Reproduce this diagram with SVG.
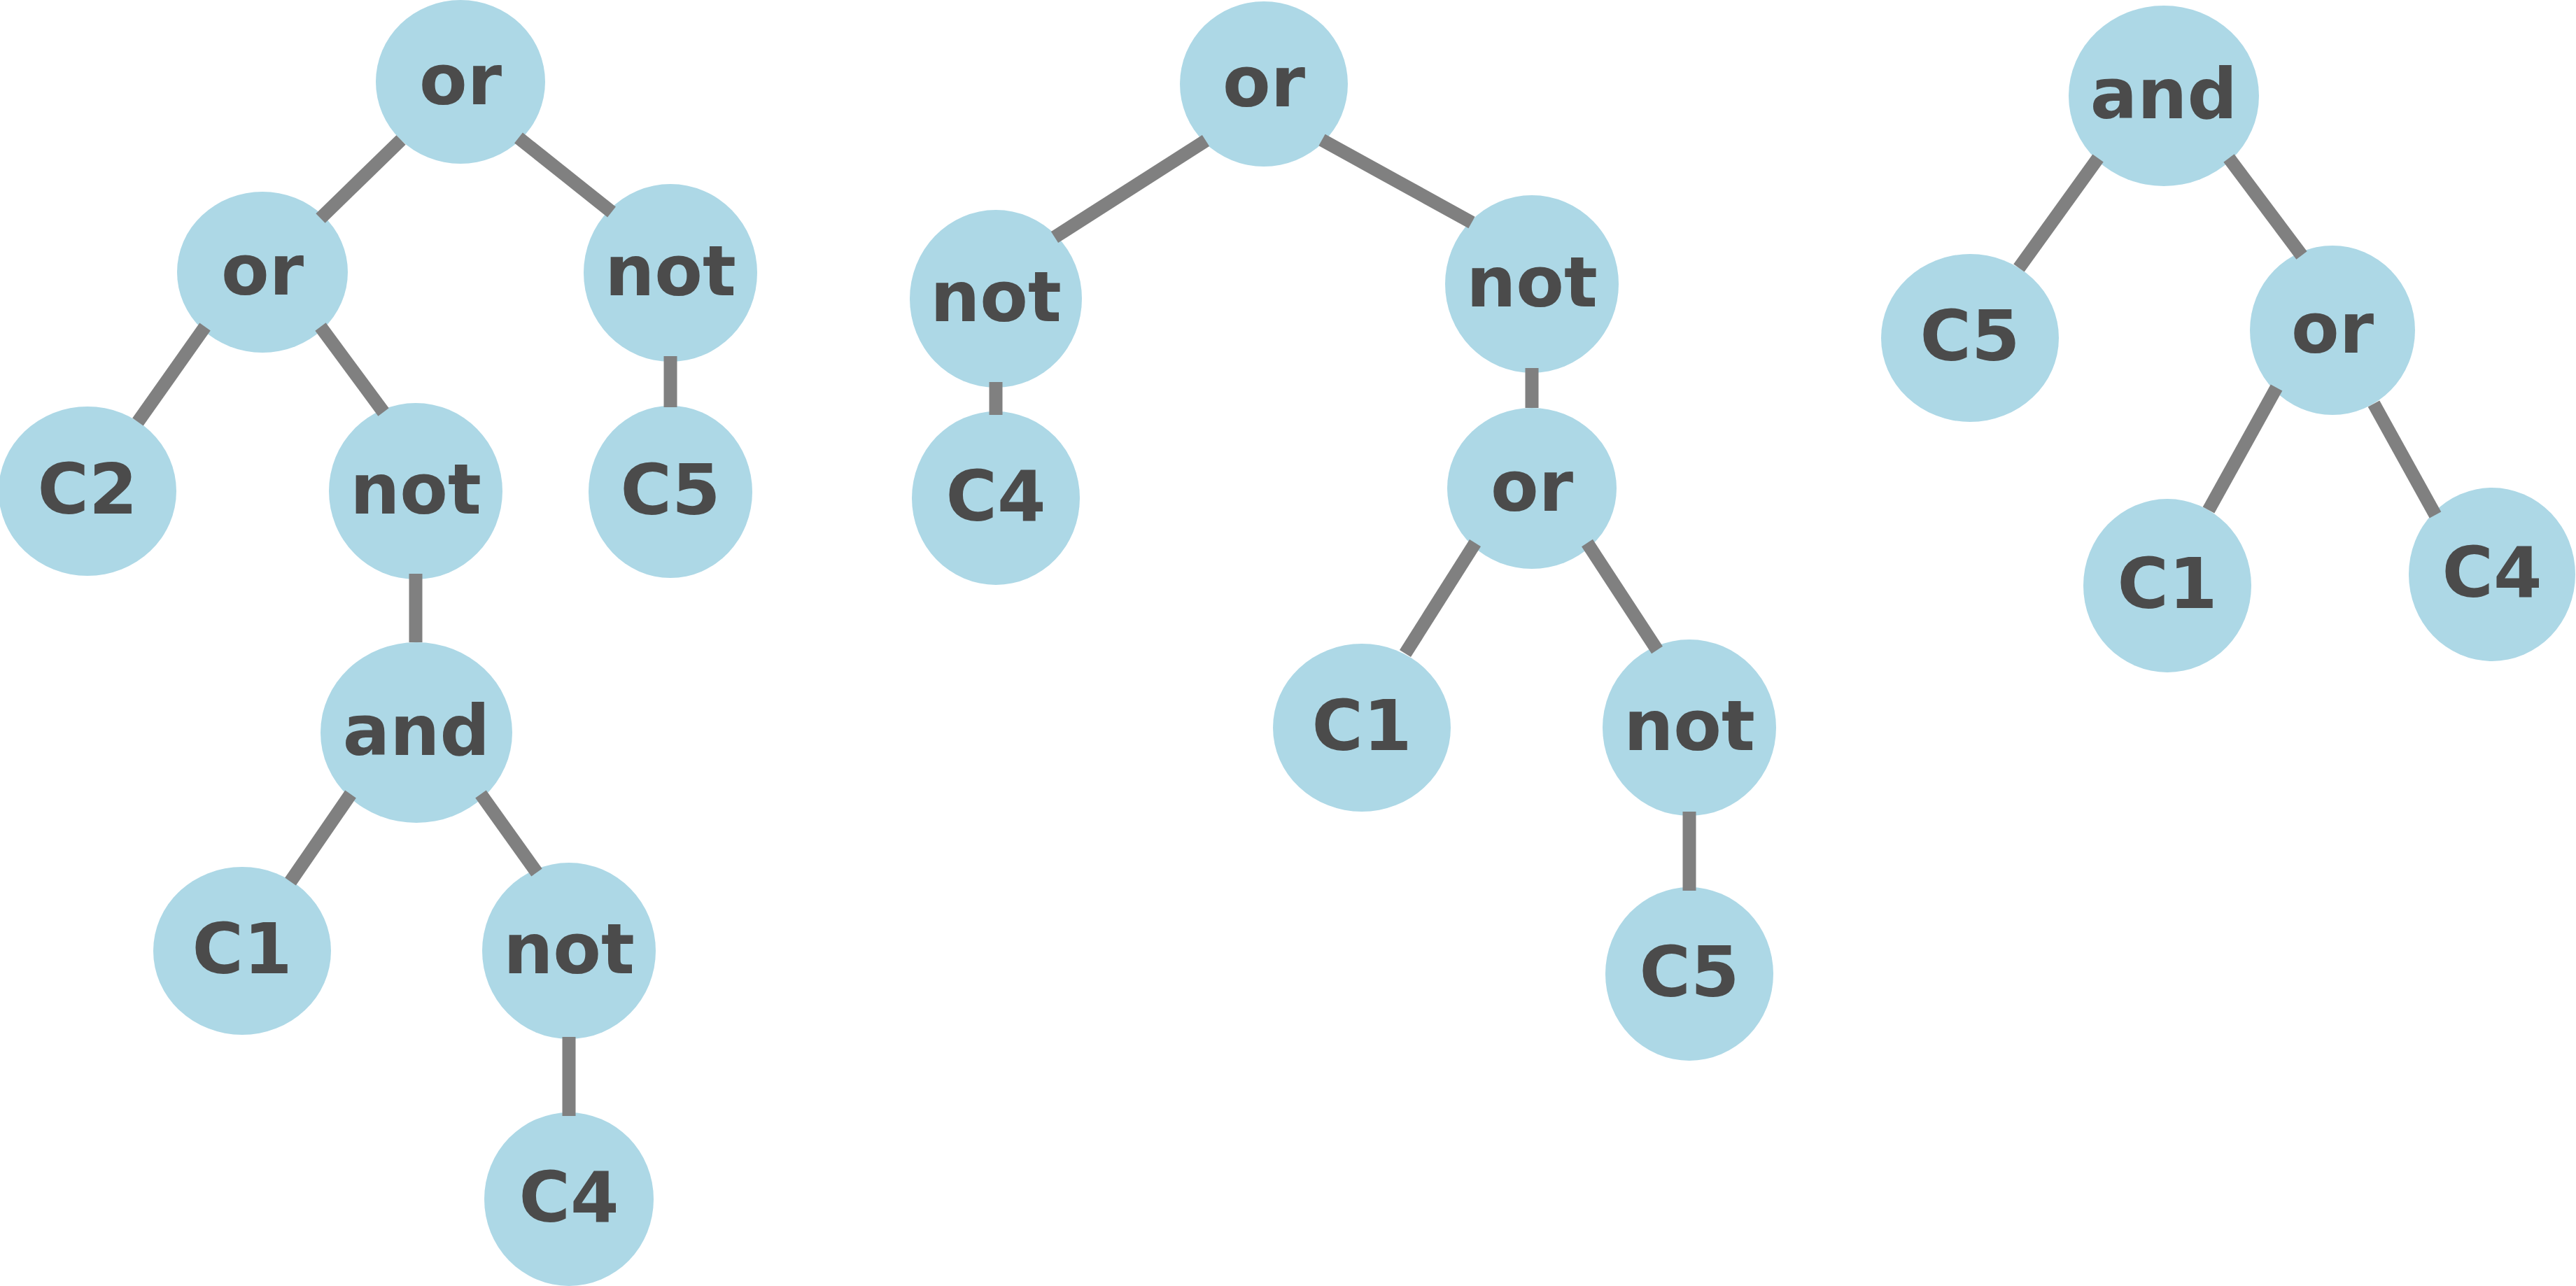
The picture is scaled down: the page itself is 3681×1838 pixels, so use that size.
<svg xmlns="http://www.w3.org/2000/svg" width="3681" height="1838" viewBox="0 0 3681 1838">
<style>
.node ellipse{fill:#ADD8E6;stroke:none}
.node text{font-family:"DejaVu Sans","Liberation Sans",sans-serif;font-weight:bold;font-size:100px;fill:#4b4b4b;text-anchor:middle}
#edges line{stroke:#808080;stroke-width:19;stroke-linecap:butt}
</style>
<rect width="3681" height="1838" fill="#ffffff"/>
<g id="nodes">
<g id="t1_or_root" class="node"><ellipse cx="658" cy="117" rx="121" ry="117"/><text x="658" y="149">or</text></g>
<g id="t1_or" class="node"><ellipse cx="375" cy="389" rx="122" ry="115"/><text x="375" y="421">or</text></g>
<g id="t1_not_r" class="node"><ellipse cx="958" cy="390" rx="124" ry="127"/><text x="958" y="422">not</text></g>
<g id="t1_C2" class="node"><ellipse cx="125" cy="702" rx="127" ry="121"/><text x="125" y="734">C2</text></g>
<g id="t1_not_m" class="node"><ellipse cx="594" cy="702" rx="124" ry="126"/><text x="594" y="734">not</text></g>
<g id="t1_C5" class="node"><ellipse cx="958" cy="703" rx="117" ry="123"/><text x="958" y="735">C5</text></g>
<g id="t1_and" class="node"><ellipse cx="595" cy="1047" rx="137" ry="129"/><text x="595" y="1079">and</text></g>
<g id="t1_C1" class="node"><ellipse cx="346" cy="1359" rx="127" ry="120"/><text x="346" y="1391">C1</text></g>
<g id="t1_not_b" class="node"><ellipse cx="813" cy="1359" rx="124" ry="126"/><text x="813" y="1391">not</text></g>
<g id="t1_C4" class="node"><ellipse cx="813" cy="1714" rx="121" ry="124"/><text x="813" y="1746">C4</text></g>

<g id="t2_or_root" class="node"><ellipse cx="1806" cy="120" rx="120" ry="118"/><text x="1806" y="152">or</text></g>
<g id="t2_not_l" class="node"><ellipse cx="1423" cy="427" rx="123" ry="127"/><text x="1423" y="459">not</text></g>
<g id="t2_not_r" class="node"><ellipse cx="2189" cy="406" rx="124" ry="127"/><text x="2189" y="438">not</text></g>
<g id="t2_C4" class="node"><ellipse cx="1423" cy="712" rx="120" ry="124"/><text x="1423" y="744">C4</text></g>
<g id="t2_or" class="node"><ellipse cx="2189" cy="698" rx="121" ry="115"/><text x="2189" y="730">or</text></g>
<g id="t2_C1" class="node"><ellipse cx="1946" cy="1040" rx="127" ry="120"/><text x="1946" y="1072">C1</text></g>
<g id="t2_not_b" class="node"><ellipse cx="2414" cy="1040" rx="124" ry="126"/><text x="2414" y="1072">not</text></g>
<g id="t2_C5" class="node"><ellipse cx="2414" cy="1392" rx="120" ry="124"/><text x="2414" y="1424">C5</text></g>

<g id="t3_and" class="node"><ellipse cx="3092" cy="137" rx="136" ry="129"/><text x="3092" y="169">and</text></g>
<g id="t3_C5" class="node"><ellipse cx="2815" cy="483" rx="127" ry="120"/><text x="2815" y="515">C5</text></g>
<g id="t3_or" class="node"><ellipse cx="3333" cy="472" rx="118" ry="121"/><text x="3333" y="504">or</text></g>
<g id="t3_C1" class="node"><ellipse cx="3097" cy="837" rx="120" ry="124"/><text x="3097" y="869">C1</text></g>
<g id="t3_C4" class="node"><ellipse cx="3561" cy="821" rx="119" ry="124"/><text x="3561" y="853">C4</text></g>
</g>
<g id="edges">
<line x1="573" y1="200" x2="458" y2="312"/>
<line x1="741" y1="197" x2="874" y2="303"/>
<line x1="293" y1="467" x2="197" y2="603"/>
<line x1="458" y1="467" x2="548" y2="589"/>
<line x1="958" y1="509" x2="958" y2="582"/>
<line x1="594" y1="820" x2="594" y2="918"/>
<line x1="501" y1="1135" x2="415" y2="1260"/>
<line x1="687" y1="1135" x2="767" y2="1247"/>
<line x1="813" y1="1482" x2="813" y2="1595"/>

<line x1="1723" y1="201" x2="1507" y2="339"/>
<line x1="1889" y1="200" x2="2103" y2="318"/>
<line x1="1423" y1="546" x2="1423" y2="593"/>
<line x1="2189" y1="526" x2="2189" y2="583"/>
<line x1="2108" y1="776" x2="2008" y2="934"/>
<line x1="2268" y1="776" x2="2368" y2="929"/>
<line x1="2414" y1="1160" x2="2414" y2="1273"/>

<line x1="2998" y1="226" x2="2885" y2="383"/>
<line x1="3185" y1="226" x2="3289" y2="365"/>
<line x1="3253" y1="554" x2="3156" y2="729"/>
<line x1="3392" y1="577" x2="3480" y2="736"/>
</g>
</svg>
